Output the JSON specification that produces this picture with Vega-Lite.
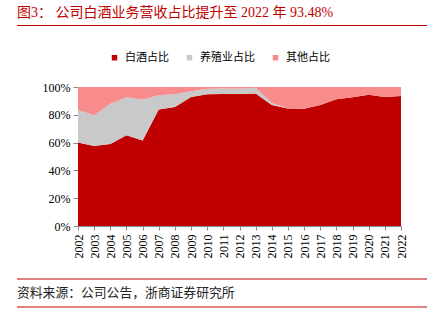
{
  "$schema": "https://vega.github.io/schema/vega-lite/v6.json",
  "padding": {"left": 16, "top": 6, "right": 10, "bottom": 0},
  "background": "white",
  "config": {"view": {"stroke": null}, "font": "Noto Sans CJK SC"},
  "align": "all",
  "bounds": "flush",
  "spacing": 61,
  "resolve": {"scale": {"color": "independent"}, "legend": {"color": "independent"}},
  "vconcat": [
    {
      "width": 410,
      "height": 19.5,
      "data": {"values": [{"t": "图3：  公司白酒业务营收占比提升至 2022 年 93.48%"}]},
      "layer": [
        {
          "mark": {"type": "rule", "color": "#C00000", "strokeWidth": 1},
          "encoding": {
            "x": {"datum": 0, "type": "quantitative", "scale": {"domain": [0, 1], "nice": false, "zero": false}, "axis": null},
            "x2": {"datum": 1},
            "y": {"datum": 0, "type": "quantitative", "scale": {"domain": [0, 1], "nice": false, "zero": false}, "axis": null}
          }
        },
        {
          "mark": {"type": "text", "align": "left", "baseline": "top", "color": "#C00000", "fontSize": 14, "font": "Liberation Serif, Noto Sans CJK SC"},
          "encoding": {
            "x": {"datum": 0, "type": "quantitative", "axis": null},
            "y": {"datum": 1, "type": "quantitative", "axis": null},
            "text": {"field": "t"}
          }
        }
      ]
    },
    {
      "align": "all",
      "bounds": "full",
      "spacing": 20,
      "resolve": {"scale": {"color": "independent"}, "legend": {"color": "independent"}},
      "vconcat": [
        {
          "bounds": "flush",
          "spacing": 20,
          "resolve": {"scale": {"color": "independent"}, "legend": {"color": "independent"}},
          "hconcat": [
            {
              "width": 41,
              "height": 139,
              "data": {"values": []},
              "mark": "point"
            },
            {
              "width": 323,
              "height": 139,
              "data": {
                "values": [
                  {"year": 2002, "series": "白酒占比", "share": 60.0},
                  {"year": 2003, "series": "白酒占比", "share": 57.5},
                  {"year": 2004, "series": "白酒占比", "share": 59.0},
                  {"year": 2005, "series": "白酒占比", "share": 65.3},
                  {"year": 2006, "series": "白酒占比", "share": 61.5},
                  {"year": 2007, "series": "白酒占比", "share": 83.8},
                  {"year": 2008, "series": "白酒占比", "share": 85.7},
                  {"year": 2009, "series": "白酒占比", "share": 92.8},
                  {"year": 2010, "series": "白酒占比", "share": 94.8},
                  {"year": 2011, "series": "白酒占比", "share": 95.0},
                  {"year": 2012, "series": "白酒占比", "share": 95.0},
                  {"year": 2013, "series": "白酒占比", "share": 95.3},
                  {"year": 2014, "series": "白酒占比", "share": 87.0},
                  {"year": 2015, "series": "白酒占比", "share": 84.5},
                  {"year": 2016, "series": "白酒占比", "share": 84.3},
                  {"year": 2017, "series": "白酒占比", "share": 87.0},
                  {"year": 2018, "series": "白酒占比", "share": 91.2},
                  {"year": 2019, "series": "白酒占比", "share": 92.7},
                  {"year": 2020, "series": "白酒占比", "share": 94.4},
                  {"year": 2021, "series": "白酒占比", "share": 92.8},
                  {"year": 2022, "series": "白酒占比", "share": 93.48},
                  {"year": 2002, "series": "养殖业占比", "share": 23.4},
                  {"year": 2003, "series": "养殖业占比", "share": 22.1},
                  {"year": 2004, "series": "养殖业占比", "share": 29.0},
                  {"year": 2005, "series": "养殖业占比", "share": 27.4},
                  {"year": 2006, "series": "养殖业占比", "share": 29.5},
                  {"year": 2007, "series": "养殖业占比", "share": 10.2},
                  {"year": 2008, "series": "养殖业占比", "share": 9.0},
                  {"year": 2009, "series": "养殖业占比", "share": 4.2},
                  {"year": 2010, "series": "养殖业占比", "share": 4.0},
                  {"year": 2011, "series": "养殖业占比", "share": 4.0},
                  {"year": 2012, "series": "养殖业占比", "share": 4.0},
                  {"year": 2013, "series": "养殖业占比", "share": 4.1},
                  {"year": 2014, "series": "养殖业占比", "share": 1.5},
                  {"year": 2015, "series": "养殖业占比", "share": 0.3},
                  {"year": 2016, "series": "养殖业占比", "share": 0},
                  {"year": 2017, "series": "养殖业占比", "share": 0},
                  {"year": 2018, "series": "养殖业占比", "share": 0},
                  {"year": 2019, "series": "养殖业占比", "share": 0},
                  {"year": 2020, "series": "养殖业占比", "share": 0},
                  {"year": 2021, "series": "养殖业占比", "share": 0},
                  {"year": 2022, "series": "养殖业占比", "share": 0},
                  {"year": 2002, "series": "其他占比", "share": 16.6},
                  {"year": 2003, "series": "其他占比", "share": 20.4},
                  {"year": 2004, "series": "其他占比", "share": 12.0},
                  {"year": 2005, "series": "其他占比", "share": 7.3},
                  {"year": 2006, "series": "其他占比", "share": 9.0},
                  {"year": 2007, "series": "其他占比", "share": 6.0},
                  {"year": 2008, "series": "其他占比", "share": 5.3},
                  {"year": 2009, "series": "其他占比", "share": 3.0},
                  {"year": 2010, "series": "其他占比", "share": 1.2},
                  {"year": 2011, "series": "其他占比", "share": 1.0},
                  {"year": 2012, "series": "其他占比", "share": 1.0},
                  {"year": 2013, "series": "其他占比", "share": 0.6},
                  {"year": 2014, "series": "其他占比", "share": 11.5},
                  {"year": 2015, "series": "其他占比", "share": 15.2},
                  {"year": 2016, "series": "其他占比", "share": 15.7},
                  {"year": 2017, "series": "其他占比", "share": 13.0},
                  {"year": 2018, "series": "其他占比", "share": 8.8},
                  {"year": 2019, "series": "其他占比", "share": 7.3},
                  {"year": 2020, "series": "其他占比", "share": 5.6},
                  {"year": 2021, "series": "其他占比", "share": 7.2},
                  {"year": 2022, "series": "其他占比", "share": 6.52}
                ]
              },
              "mark": {"type": "area", "interpolate": "linear"},
              "encoding": {
                "x": {
                  "field": "year", "type": "ordinal",
                  "scale": {"type": "point", "padding": 0},
                  "axis": {"title": null, "labelAngle": 270, "tickSize": 4, "labelPadding": 4, "labelFont": "Liberation Serif", "labelFontSize": 12, "labelColor": "#000000", "domainColor": "#888888", "tickColor": "#888888"}
                },
                "y": {
                  "field": "share", "type": "quantitative", "stack": "zero",
                  "scale": {"domain": [0, 100], "nice": false},
                  "axis": {"title": null, "values": [0, 20, 40, 60, 80, 100], "labelExpr": "datum.value + '%'", "grid": false, "tickSize": 5, "labelPadding": 3, "labelFont": "Liberation Serif", "labelFontSize": 12, "labelColor": "#000000", "domainColor": "#888888", "tickColor": "#888888"}
                },
                "color": {
                  "field": "series", "type": "nominal",
                  "scale": {"domain": ["白酒占比", "养殖业占比", "其他占比"], "range": ["#C00000", "#C9C9C9", "#F88B8B"]},
                  "legend": {"title": null, "orient": "none", "direction": "horizontal", "legendX": 26, "legendY": -40, "symbolType": "square", "symbolSize": 30, "symbolStrokeWidth": 0, "labelFontSize": 11, "labelFont": "Noto Sans CJK SC", "labelColor": "#000000", "columnPadding": 15, "labelOffset": 5, "padding": 5}
                },
                "order": {"field": "series", "sort": "descending"}
              }
            }
          ]
        },
        {
          "width": 410,
          "height": 28,
          "data": {"values": [{"t": "资料来源：公司公告，浙商证券研究所"}]},
          "layer": [
            {
              "mark": {"type": "rule", "color": "#C00000", "strokeWidth": 1},
              "encoding": {
                "x": {"datum": 0, "type": "quantitative", "scale": {"domain": [0, 1], "nice": false, "zero": false}, "axis": null},
                "x2": {"datum": 1},
                "y": {"datum": 1, "type": "quantitative", "scale": {"domain": [0, 1], "nice": false, "zero": false}, "axis": null}
              }
            },
            {
              "mark": {"type": "rule", "color": "#C00000", "strokeWidth": 1},
              "encoding": {
                "x": {"datum": 0, "type": "quantitative", "axis": null},
                "x2": {"datum": 1},
                "y": {"datum": 0, "type": "quantitative", "axis": null}
              }
            },
            {
              "mark": {"type": "text", "align": "left", "baseline": "middle", "color": "#222222", "fontSize": 12.8, "font": "Noto Sans CJK SC"},
              "encoding": {
                "x": {"datum": 0, "type": "quantitative", "axis": null},
                "y": {"datum": 0.5, "type": "quantitative", "axis": null},
                "text": {"field": "t"}
              }
            }
          ]
        }
      ]
    }
  ]
}
